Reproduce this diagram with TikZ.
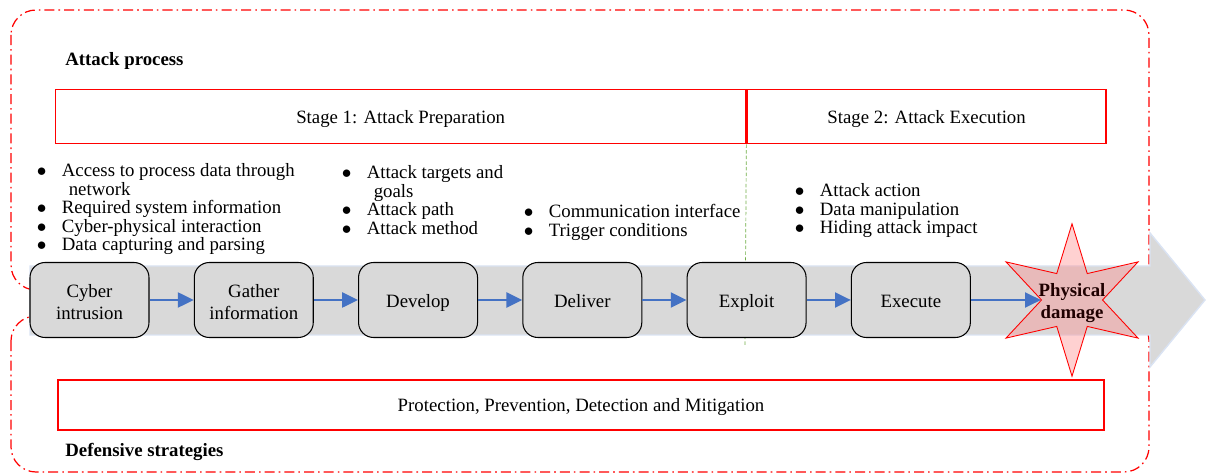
\documentclass[tikz,border=0pt]{standalone}
\usepackage{fontspec}
\setmainfont{Liberation Serif}
\usepackage{tikz}
\usetikzlibrary{positioning,shapes.geometric,arrows.meta}
\definecolor{flowblue}{RGB}{68,114,196}
\definecolor{bandgray}{RGB}{217,217,217}
\definecolor{bandedge}{RGB}{218,227,243}
\definecolor{divgreen}{RGB}{112,173,71}
\newcommand{\bitem}[1]{\makebox[0.5cm][l]{$\bullet$}#1}
\newcommand{\bcont}[1]{\hspace*{0.64cm}#1}
\tikzset{
	stepbox/.style={
		draw, rounded corners=0.3cm, fill=bandgray, line width=0.6pt,
		minimum width=2.38cm, minimum height=1.5cm,
		align=center, inner sep=2pt,
		font=\fontsize{10.7}{12.5}\selectfont
	},
	oneline/.style={text height=8pt, text depth=0pt},
	twoline/.style={text height=22pt, text depth=0pt},
	redbox/.style={
		draw=red, line width=0.85pt, inner sep=0pt,
		text height=7.5pt, text depth=0pt,
		font=\fontsize{10.7}{12.5}\selectfont
	},
	zone/.style={
		draw=red, line width=0.7pt, rounded corners=0.5cm,
		dash pattern=on 5.7pt off 2.3pt on 0.9pt off 2.3pt
	},
	dmgstar/.style={
		draw=red, line width=0.5pt, fill=red!45, fill opacity=0.4,
		star, star points=6, star point ratio=2.5,
		minimum size=3.05cm, inner sep=0pt
	},
}

\begin{document}
\begin{tikzpicture}[x=0.02cm, y=-0.02cm,
		flow/.style={-{Triangle[length=9pt,width=8.5pt]}, draw=flowblue, line width=1.2pt},
		bullets/.style={anchor=north west, inner sep=0pt, align=left,
			font=\fontsize{10.7}{10.6}\selectfont},
		title/.style={anchor=base west, inner sep=0pt,
			font=\fontsize{10.7}{12.5}\selectfont\bfseries}
		]
		\useasboundingbox (0,0) rectangle (1206,475);
		
		% attack and defence zones
		\draw[zone] (11,10) rectangle (1149,290);
		\draw[zone] (11,316) rectangle (1149,472);
		
		\node[title] (atk) at (65,66) {Attack process};
		\node[title] (def) at (65,457) {Defensive strategies};
		
		% process band
		\filldraw[fill=bandgray, draw=bandedge, line width=0.8pt]
			(30,266) -- (1150,266) -- (1150,233) -- (1205,300)
			-- (1150,367) -- (1150,335) -- (30,335) -- cycle;
		
		\node[redbox, anchor=north west, minimum width=13.8cm, minimum height=1.08cm]
			(stage1) at (55,89) {Stage 1: Attack Preparation};
		\node[redbox, anchor=west, minimum width=7.18cm, minimum height=1.08cm]
			(stage2) at (stage1.east) {Stage 2: Attack Execution};
		\node[redbox, minimum width=20.92cm, minimum height=1cm]
			(defence) at (581,405) {Protection, Prevention, Detection and Mitigation};
		
		\coordinate (divend) at (745,345);
		\draw[divgreen, line width=0.4pt, dash pattern=on 2pt off 1.2pt]
			(stage1.south east) -- (divend);
		
		\node[stepbox, twoline] (cyber) at (89.5,300) {Cyber\\intrusion};
		\node[stepbox, twoline, right=0.885cm of cyber] (gather) {Gather\\information};
		\node[stepbox, oneline, right=0.885cm of gather] (develop) {Develop};
		\node[stepbox, oneline, right=0.885cm of develop] (deliver) {Deliver};
		\node[stepbox, oneline, right=0.885cm of deliver] (exploit) {Exploit};
		\node[stepbox, oneline, right=0.885cm of exploit] (execute) {Execute};
		
		\node[dmgstar] (dmg) at (1072,300) {};
		\node[align=center, text=black!88!red, inner sep=0pt,
			text height=21pt, text depth=0pt,
			font=\fontsize{10.7}{12.5}\selectfont\bfseries] (dmgtxt) at (dmg) {Physical\\damage};
		
		\foreach \a/\b in {cyber/gather, gather/develop, develop/deliver,
			deliver/exploit, exploit/execute}
			\draw[flow] (\a) -- (\b);
		\draw[flow] (execute) -- (dmg.180);
		
		% task lists above the band
		\node[bullets] (cyberlist) at (36.5,163) {\bitem{Access to process data through}\\
			\bcont{network}\\ \bitem{Required system information}\\
			\bitem{Cyber-physical interaction}\\ \bitem{Data capturing and parsing}};
		\node[bullets] (developlist) at (341.5,165) {\bitem{Attack targets and}\\
			\bcont{goals}\\ \bitem{Attack path}\\ \bitem{Attack method}};
		\node[bullets] (deliverlist) at (523.5,204) {\bitem{Communication interface}\\
			\bitem{Trigger conditions}};
		\node[bullets] (executelist) at (794.5,183) {\bitem{Attack action}\\
			\bitem{Data manipulation}\\ \bitem{Hiding attack impact}};
	\end{tikzpicture}
\end{document}
